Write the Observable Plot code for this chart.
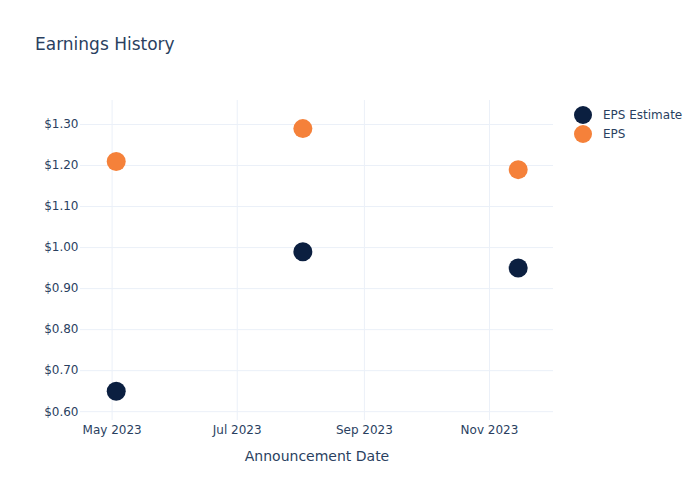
<!DOCTYPE html>
<html>
<head>
<meta charset="utf-8">
<script src="https://cdn.jsdelivr.net/npm/d3@7"></script>
<script src="https://cdn.jsdelivr.net/npm/@observablehq/plot@0.6"></script>
<style>
  html, body { margin: 0; padding: 0; background: #fff; }
  #wrap { position: relative; width: 700px; height: 500px; font-family: "DejaVu Sans", sans-serif; color: #2a3f5f; }
  #title { position: absolute; left: 35px; top: 34px; font-size: 17px; color: #2a3f5f; }
  #legend { position: absolute; left: 574px; top: 105px; font-size: 12px; color: #2a3f5f; }
  .li { display: flex; align-items: center; height: 19px; }
  .sw { width: 18px; height: 18px; border-radius: 50%; margin-right: 11px; }
  svg { position: absolute; left: 0; top: 0; }
</style>
</head>
<body>
<div id="wrap">
  <div id="title">Earnings History</div>
  <div id="legend"></div>
</div>
<script>
const dates = ["2023-05-03", "2023-08-02", "2023-11-15"];
const epsEstimate = [0.65, 0.99, 0.95];
const eps = [1.21, 1.29, 1.19];
const seriesNames = ["EPS Estimate", "EPS"];
const seriesColors = ["#0b1f40", "#f5813a"];
const xTicks = ["2023-05-01", "2023-07-01", "2023-09-01", "2023-11-01"];
const yTicks = [0.6, 0.7, 0.8, 0.9, 1.0, 1.1, 1.2, 1.3];

const rows = [];
dates.forEach((d, i) => {
  rows.push({date: new Date(d), value: epsEstimate[i], series: seriesNames[0]});
  rows.push({date: new Date(d), value: eps[i], series: seriesNames[1]});
});

const plot = Plot.plot({
  width: 700,
  height: 500,
  marginLeft: 80,
  marginRight: 147,
  marginTop: 100,
  marginBottom: 80,
  style: {fontFamily: "'DejaVu Sans', sans-serif", fontSize: "12px", color: "#2a3f5f", background: "transparent"},
  x: {
    type: "utc",
    domain: [new Date("2023-04-15T14:00:00Z"), new Date("2023-12-02T05:00:00Z")],
    label: null
  },
  y: {
    domain: [0.5785, 1.3585],
    label: null
  },
  color: {domain: seriesNames, range: seriesColors},
  marks: [
    Plot.gridX(xTicks.map(d => new Date(d)), {stroke: "#ebf0f8", strokeOpacity: 1, strokeWidth: 1}),
    Plot.gridY(yTicks, {stroke: "#ebf0f8", strokeOpacity: 1, strokeWidth: 1}),
    Plot.axisX({ticks: xTicks.map(d => new Date(d)), tickFormat: d3.utcFormat("%b %Y"), tickSize: 0, tickPadding: 5, label: null, fill: "#2a3f5f"}),
    Plot.axisY({ticks: yTicks, tickFormat: d3.format("$.2f"), tickSize: 0, tickPadding: 2, label: null, fill: "#2a3f5f"}),
    Plot.text(["Announcement Date"], {frameAnchor: "bottom", dy: 40, fontSize: 14, fill: "#2a3f5f"}),
    Plot.dot(rows, {x: "date", y: "value", fill: "series", r: 9.5, stroke: "none"})
  ]
});
document.getElementById("wrap").appendChild(plot);

const legend = document.getElementById("legend");
seriesNames.forEach((name, i) => {
  const li = document.createElement("div");
  li.className = "li";
  li.innerHTML = `<div class="sw" style="background:${seriesColors[i]}"></div><span>${name}</span>`;
  legend.appendChild(li);
});
</script>
</body>
</html>
